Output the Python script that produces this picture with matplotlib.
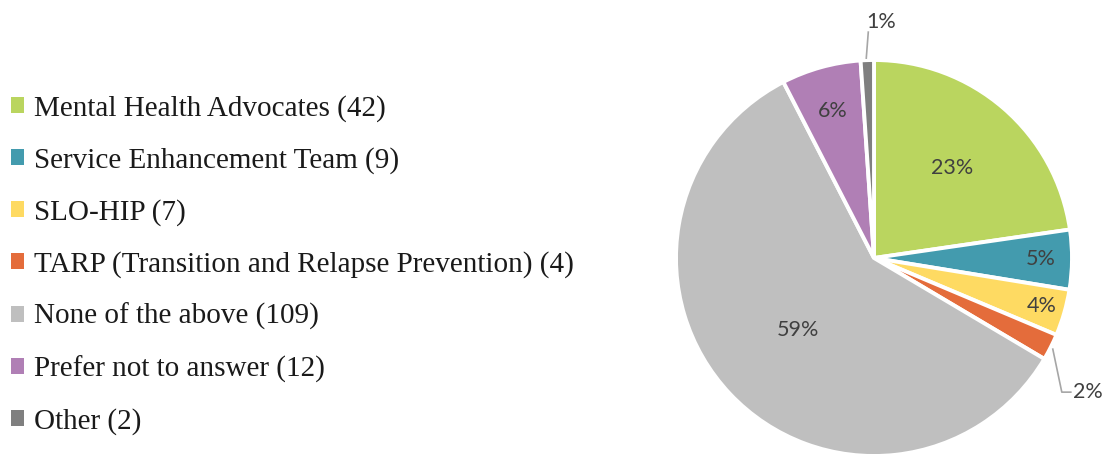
import numpy as np
import matplotlib
matplotlib.use("Agg")
import matplotlib.pyplot as plt
from matplotlib.patches import Patch

categories = ["Mental Health Advocates", "Service Enhancement Team", "SLO-HIP",
              "TARP (Transition and Relapse Prevention)", "None of the above",
              "Prefer not to answer", "Other"]
counts = [42, 9, 7, 4, 109, 12, 2]
colors = ["#BAD55F", "#439BAE", "#FEDA62", "#E46C3B", "#BFBFBF", "#B07FB5", "#7F7F7F"]
# radial position of each percent label as fraction of radius
label_dist = [0.60, 0.84, 0.88, None, 0.53, 0.77, None]

W, H = 1105, 454
fig = plt.figure(figsize=(W / 100, H / 100), dpi=100)
ax = fig.add_axes([0, 0, 1, 1])
cx, cy, R = 874, H - 258, 198

wedges, _ = ax.pie(counts, colors=colors, startangle=90, counterclock=False,
                   center=(cx, cy), radius=R,
                   wedgeprops=dict(edgecolor="white", linewidth=2.8))
ax.set_xlim(0, W)
ax.set_ylim(0, H)
ax.set_aspect("equal")
ax.axis("off")

total = sum(counts)
pct = [round(100 * c / total) for c in counts]
txt_kw = dict(fontsize=15.5, color="#404040", family="Lato", ha="center", va="center")
for w, p, d in zip(wedges, pct, label_dist):
    if d is None:
        continue
    a = np.deg2rad((w.theta1 + w.theta2) / 2)
    ax.text(cx + d * R * np.cos(a), cy + d * R * np.sin(a), f"{p}%", **txt_kw)

# outside labels with leader lines
# Other (1%)
w = wedges[6]
a = np.deg2rad((w.theta1 + w.theta2) / 2)
x0, y0 = cx + R * np.cos(a), cy + R * np.sin(a)
ax.plot([x0 - 1, x0 + 1], [y0 + 2, y0 + 28], color="#A6A6A6", lw=1.2)
ax.text(x0 + 14, y0 + 38, f"{pct[6]}%", **txt_kw)
# TARP (2%)
w = wedges[3]
a = np.deg2rad((w.theta1 + w.theta2) / 2)
x0, y0 = cx + R * np.cos(a), cy + R * np.sin(a)
ax.plot([x0 + 2, x0 + 11, x0 + 20], [y0 - 2, y0 - 45, y0 - 45], color="#A6A6A6", lw=1.2)
ax.text(x0 + 22, y0 - 45, f"{pct[3]}%", **{**txt_kw, "ha": "left"})

handles = [Patch(facecolor=c, edgecolor="none") for c in colors]
labels = [f"{n} ({c})" for n, c in zip(categories, counts)]
fig.legend(handles, labels, loc="upper left", bbox_to_anchor=(11 / W, 1 - 95 / H),
           frameon=False, prop=dict(family="Liberation Serif", size=21),
           handlelength=0.45, handleheight=0.45, handletextpad=0.35,
           labelspacing=0.86, borderaxespad=0, borderpad=0, labelcolor="#1a1a1a")

fig.savefig("out.png", dpi=100)
